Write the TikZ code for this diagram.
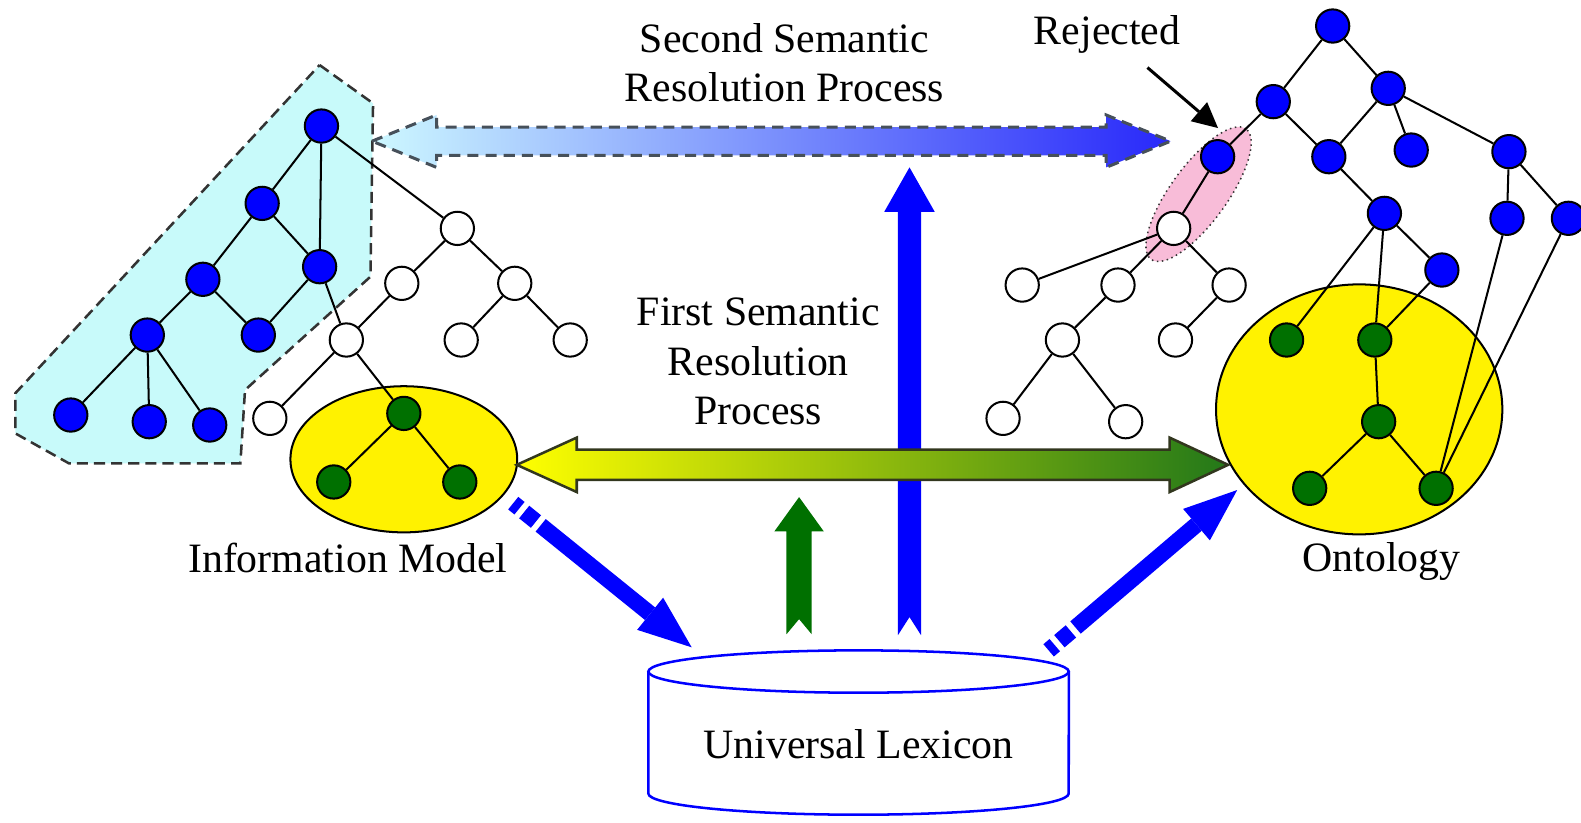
\documentclass[tikz,border=0pt]{standalone}
\usepackage{fontspec}
\setmainfont{Liberation Serif}
\usetikzlibrary{shapes.geometric, arrows.meta}

\definecolor{nodeblue}{RGB}{0,0,255}
\definecolor{nodegreen}{RGB}{0,112,0}
\definecolor{regioncyan}{RGB}{200,250,250}
\definecolor{rejpink}{RGB}{248,188,216}
\definecolor{arrowcyan}{RGB}{205,248,255}
\definecolor{arrowmid}{RGB}{130,170,255}
\definecolor{arrowblue}{RGB}{40,40,250}
\definecolor{arrowyellow}{RGB}{255,255,0}
\definecolor{arrowolive}{RGB}{195,200,0}
\definecolor{arrowgreen}{RGB}{35,120,25}
\definecolor{outlinegray}{RGB}{70,80,90}
\definecolor{outlinedark}{RGB}{50,55,30}

\begin{document}
\begin{tikzpicture}[x=0.02cm, y=-0.02cm,
  concept/.style={circle, draw=black, line width=0.04cm, minimum size=0.66cm, inner sep=0pt},
  bn/.style={concept, fill=nodeblue},
  wn/.style={concept, fill=white},
  gn/.style={concept, fill=nodegreen},
  link/.style={draw=black, line width=0.04cm},
  lbl/.style={font=\fontsize{23.6}{27.9}\selectfont, align=center, inner sep=0pt},
  group/.style={ellipse, draw=black, line width=0.04cm, fill=yellow, inner sep=0pt},
  fatarrow/.style={draw=nodeblue, line width=0.32cm,
    dash pattern=on 0.16cm off 0.12cm on 0.3cm off 0.12cm on 30cm off 0.1cm,
    -{Triangle[width=0.82cm, length=1.06cm, line width=0pt]}},
]
\useasboundingbox (0,0) rectangle (1568,816);

% matched part of the information model
\path[fill=regioncyan, draw=black!80, line width=0.05cm, dash pattern=on 0.22cm off 0.12cm]
  (317,64.5) -- (370,102.5) -- (367.4,274.4) -- (243,386.8) -- (238.4,459.5)
  -- (68.3,459.5) -- (15.2,429.8) -- (15.2,390) -- cycle;

% grouping ellipses
\node[group, minimum width=4.5cm, minimum height=2.9cm] (im) at (400.5,455.5) {};
\node[group, minimum width=5.68cm, minimum height=4.96cm] (onto) at (1348,406) {};
\node[ellipse, draw=black!80, dotted, line width=0.03cm, fill=rejpink,
      minimum width=3.2cm, minimum height=1.12cm, inner sep=0pt, rotate=54] (rej) at (1188.7,192.6) {};

% information model tree
\node[bn] (A) at (318.8,125) {};
\node[bn] (B) at (260,201.7) {};
\node[bn] (C) at (317,264.5) {};
\node[bn] (D) at (201.2,277) {};
\node[bn] (E) at (256.2,332.3) {};
\node[bn] (F) at (146.1,332.3) {};
\node[bn] (G1) at (70.2,411.6) {};
\node[bn] (G2) at (148,418.2) {};
\node[bn] (G3) at (208,421.5) {};
\node[wn] (W1) at (453.6,226.5) {};
\node[wn] (W2) at (398.5,281) {};
\node[wn] (W3) at (510.5,281) {};
\node[wn] (W4) at (343.5,337.2) {};
\node[wn] (W5) at (457.4,337.2) {};
\node[wn] (W6) at (565.5,337.2) {};
\node[wn] (W7) at (267.6,414.9) {};
\node[gn] (I1) at (400.5,410) {};
\node[gn] (I2) at (331,478) {};
\node[gn] (I3) at (456,478) {};

\draw[link] (A)--(B) (A)--(C) (B)--(D) (B)--(C) (D)--(F) (D)--(E) (C)--(E)
  (F)--(G1) (F)--(G2) (F)--(G3) (A)--(W1) (W1)--(W2) (W1)--(W3) (W2)--(W4)
  (W3)--(W5) (W3)--(W6) (C)--(W4) (W4)--(W7) (W4)--(I1) (I1)--(I2) (I1)--(I3);

% ontology tree
\node[bn] (R0) at (1321.7,25.8) {};
\node[bn] (R1) at (1262.8,100.8) {};
\node[bn] (R2) at (1376.8,87.6) {};
\node[bn] (R3) at (1207.6,155.4) {};
\node[bn] (R4) at (1317.9,155.4) {};
\node[bn] (R5) at (1399.6,148.8) {};
\node[bn] (R6) at (1496.5,150.4) {};
\node[bn] (R7) at (1373,211.6) {};
\node[bn] (R8) at (1494.6,216.5) {};
\node[bn] (R9) at (1555.5,216.5) {};
\node[bn] (R10) at (1430,267.8) {};
\node[gn] (O1) at (1276,337.2) {};
\node[gn] (O2) at (1363.5,337.2) {};
\node[gn] (O3) at (1367.3,418.2) {};
\node[gn] (O4) at (1298.9,484.3) {};
\node[gn] (O5) at (1424.3,484.3) {};
\node[wn] (X0) at (1164,226.5) {};
\node[wn] (X1) at (1013.8,282.7) {};
\node[wn] (X2) at (1108.8,282.7) {};
\node[wn] (X3) at (1219,282.7) {};
\node[wn] (X4) at (1053.7,337.2) {};
\node[wn] (X5) at (1165.8,337.2) {};
\node[wn] (X6) at (994.8,414.9) {};
\node[wn] (X7) at (1116.4,418.2) {};

\draw[link] (R0)--(R1) (R0)--(R2) (R1)--(R3) (R1)--(R4) (R2)--(R4) (R2)--(R5)
  (R2)--(R6) (R4)--(R7) (R6)--(R8) (R6)--(R9) (R7)--(R10) (R7)--(O1) (R7)--(O2)
  (R10)--(O2) (O2)--(O3) (O3)--(O4) (O3)--(O5) (R8)--(O5) (R9)--(O5)
  (R3)--(X0) (X0)--(X1) (X0)--(X2) (X0)--(X3) (X2)--(X4) (X3)--(X5)
  (X4)--(X6) (X4)--(X7);

% lexicon lookups
\coordinate (vbn) at (902,612);
\fill[nodeblue] (vbn) -- ++(11.5,18) -- ++(0,-420) -- ++(13.5,0) -- ++(-25,-44)
  -- ++(-25,44) -- ++(13.5,0) -- ++(0,420) -- cycle;

% first semantic resolution
\coordinate (dl) at (512.5,461);
\path[left color=arrowyellow, middle color=arrowolive, right color=arrowgreen,
      draw=outlinedark, line width=0.05cm]
  (dl) -- ++(59.5,-27) -- ++(0,12) -- ++(588,0) -- ++(0,-12) -- ++(58,27)
  -- ++(-58,27) -- ++(0,-12) -- ++(-588,0) -- ++(0,12) -- cycle;

\coordinate (vgn) at (792.5,614);
\fill[nodegreen] (vgn) -- ++(12.5,15) -- ++(0,-102) -- ++(12,0) -- ++(-24.5,-34)
  -- ++(-24.5,34) -- ++(12,0) -- ++(0,102) -- cycle;

% second semantic resolution
\coordinate (tl) at (369,140);
\path[left color=arrowcyan, middle color=arrowmid, right color=arrowblue,
      draw=outlinegray, line width=0.06cm, dash pattern=on 0.22cm off 0.14cm]
  (tl) -- ++(64,-26) -- ++(0,12) -- ++(664,0) -- ++(0,-12) -- ++(64,26)
  -- ++(-64,26) -- ++(0,-12) -- ++(-664,0) -- ++(0,12) -- cycle;

% universal lexicon
\path[draw=nodeblue, fill=white, line width=0.05cm] (643,666) -- (643,787)
  arc[start angle=180, end angle=360, x radius=4.17cm, y radius=0.42cm] -- (1060,666);
\draw[nodeblue, line width=0.05cm] (851.5,666) ellipse [x radius=4.17cm, y radius=0.42cm];
\node[lbl] (lex) at (851.5,738) {Universal Lexicon};

% model and ontology to and from the lexicon
\coordinate (d1s) at (509,499);
\coordinate (d1t) at (686,642);
\coordinate (d2s) at (1040,645);
\coordinate (d2t) at (1227,486);
\draw[fatarrow] (d1s) -- (d1t);
\draw[fatarrow] (d2s) -- (d2t);

% labels
\node[lbl] (sec) at (778,62.4) {Second Semantic\\Resolution Process};
\node[lbl] (fir) at (752,358.5) {First Semantic\\Resolution\\Process};
\node[lbl] (iml) at (345,553) {Information Model};
\node[lbl] (ontl) at (1370,557) {Ontology};
\node[lbl] (rejl) at (1098,34) {Rejected};
\coordinate (ra) at (1138,67);
\coordinate (rb) at (1208,127);
\draw[line width=0.06cm, -{Triangle[width=0.5cm, length=0.5cm, line width=0pt]}] (ra) -- (rb);
\end{tikzpicture}
\end{document}
